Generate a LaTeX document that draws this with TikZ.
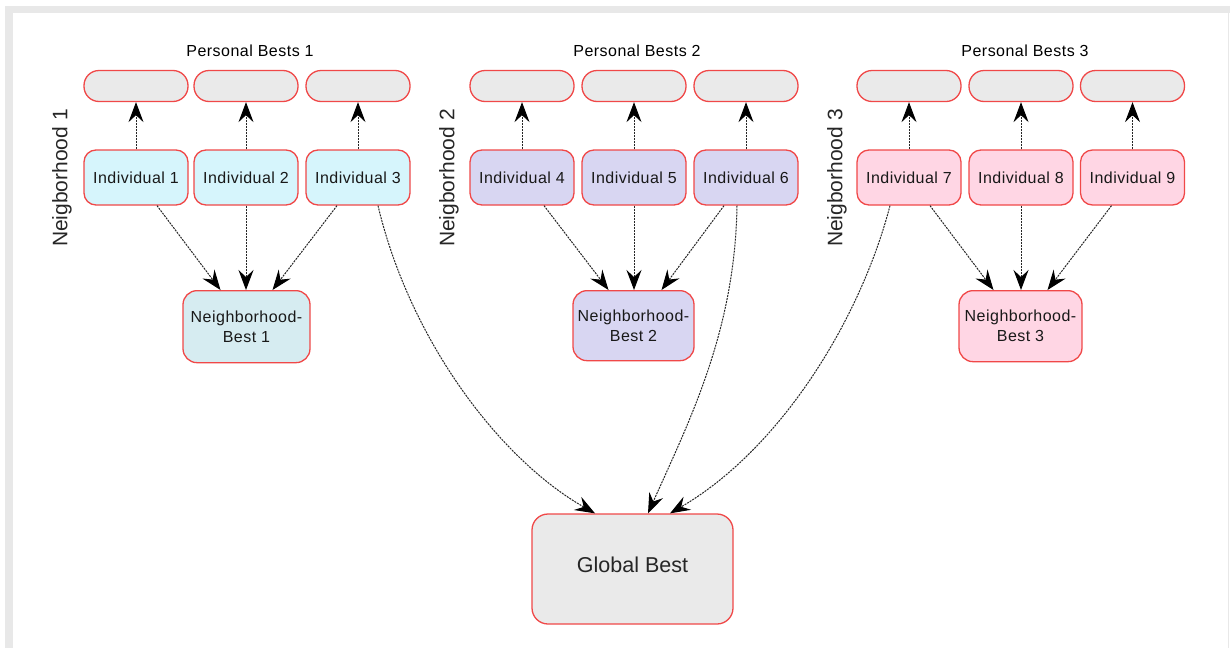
\documentclass[tikz,border=0pt]{standalone}
\usepackage{fontspec}
\setmainfont{Liberation Sans}
\newfontfamily\boxfont[LetterSpace=3]{Liberation Sans}
\usetikzlibrary{arrows.meta}

\definecolor{edgered}{RGB}{240,72,72}
\definecolor{boxgray}{RGB}{234,234,234}
\definecolor{framegray}{RGB}{232,232,232}
\definecolor{cyanA}{RGB}{214,245,252}
\definecolor{cyanB}{RGB}{214,236,241}
\definecolor{lilac}{RGB}{216,214,242}
\definecolor{rose}{RGB}{255,214,228}

\tikzset{
  pbest/.style={draw=edgered, line width=1.3pt, fill=boxgray, rounded corners=15pt,
    minimum width=104pt, minimum height=31pt, inner sep=0pt},
  indiv/.style={draw=edgered, line width=1.3pt, rounded corners=12pt,
    minimum width=104pt, minimum height=55pt, inner sep=0pt,
    font=\boxfont\fontsize{16}{20}\selectfont, text=black!90},
  nbest/.style={indiv, align=center, rounded corners=14pt, anchor=north},
  gbox/.style={draw=edgered, line width=1.3pt, fill=boxgray, rounded corners=16pt,
    minimum width=201pt, minimum height=110pt, inner sep=0pt, text depth=8pt,
    font=\fontsize{21.5}{26}\selectfont, text=black!85},
  title/.style={font=\boxfont\fontsize{16}{20}\selectfont},
  hoodlabel/.style={rotate=90, font=\fontsize{21}{25}\selectfont, text=black!85},
  link/.style={line width=1pt, black!85, dash pattern=on 2pt off 1pt,
    -{Stealth[length=20pt,width=15pt,inset=7pt,black]}}
}

\begin{document}
\begin{tikzpicture}[x=1pt,y=1pt,yscale=-1,xscale=1]
\useasboundingbox (0,0) rectangle (1230,648);

%Shape: Frame
\fill[framegray] (5,6) rectangle (1230,13);
\fill[framegray] (5,6) rectangle (13,648);
\draw[framegray, line width=1pt] (1228.5,13) -- (1228.5,648);

% Text Node
\node[title] (pbt1) at (250,51) {Personal Bests 1};
\node[title] (pbt2) at (637,51) {Personal Bests 2};
\node[title] (pbt3) at (1025,51) {Personal Bests 3};
% Text Node
\node[hoodlabel] (nh1) at (62,178) {Neigborhood 1};
\node[hoodlabel] (nh2) at (449,178) {Neigborhood 2};
\node[hoodlabel] (nh3) at (837,178) {Neigborhood 3};

%Shape: Personal best slots
\node[pbest] (pb1) at (136,86) {};
\node[pbest] (pb2) at (246,86) {};
\node[pbest] (pb3) at (358,86) {};
\node[pbest] (pb4) at (522,86) {};
\node[pbest] (pb5) at (634,86) {};
\node[pbest] (pb6) at (746,86) {};
\node[pbest] (pb7) at (909,86) {};
\node[pbest] (pb8) at (1021,86) {};
\node[pbest] (pb9) at (1132.5,86) {};

%Shape: Individuals
\node[indiv, fill=cyanA] (ind1) at (136,177.5) {Individual 1};
\node[indiv, fill=cyanA] (ind2) at (246,177.5) {Individual 2};
\node[indiv, fill=cyanA] (ind3) at (358,177.5) {Individual 3};
\node[indiv, fill=lilac] (ind4) at (522,177.5) {Individual 4};
\node[indiv, fill=lilac] (ind5) at (634,177.5) {Individual 5};
\node[indiv, fill=lilac] (ind6) at (746,177.5) {Individual 6};
\node[indiv, fill=rose] (ind7) at (909,177.5) {Individual 7};
\node[indiv, fill=rose] (ind8) at (1021,177.5) {Individual 8};
\node[indiv, fill=rose] (ind9) at (1132.5,177.5) {Individual 9};

%Shape: Neighborhood bests
\node[nbest, fill=cyanB, minimum width=127pt, minimum height=72pt] (nb1) at (246.5,290) {Neighborhood-\\Best 1};
\node[nbest, fill=lilac, minimum width=121pt, minimum height=70pt] (nb2) at (633.5,290) {Neighborhood-\\Best 2};
\node[nbest, fill=rose, minimum width=123pt, minimum height=71pt] (nb3) at (1020.5,290) {Neighborhood-\\Best 3};

%Shape: Global best
\node[gbox] (gbest) at (632.5,569) {Global Best};

%Straight Lines: up to the personal bests
\draw[link] (ind1.north) -- (pb1.south);
\draw[link] (ind2.north) -- (pb2.south);
\draw[link] (ind3.north) -- (pb3.south);
\draw[link] (ind4.north) -- (pb4.south);
\draw[link] (ind5.north) -- (pb5.south);
\draw[link] (ind6.north) -- (pb6.south);
\draw[link] (ind7.north) -- (pb7.south);
\draw[link] (ind8.north) -- (pb8.south);
\draw[link] (ind9.north) -- (pb9.south);

%Straight Lines: down to the neighborhood bests
\draw[link] ([xshift=21pt]ind1.south) -- ([xshift=-26pt]nb1.north);
\draw[link] (ind2.south) -- (ind2.south |- nb1.north);
\draw[link] ([xshift=-21pt]ind3.south) -- ([xshift=26pt]nb1.north);
\draw[link] ([xshift=22pt]ind4.south) -- ([xshift=-25pt]nb2.north);
\draw[link] (ind5.south) -- (ind5.south |- nb2.north);
\draw[link] ([xshift=-22pt]ind6.south) -- ([xshift=28pt]nb2.north);
\draw[link] ([xshift=21pt]ind7.south) -- ([xshift=-27pt]nb3.north);
\draw[link] (ind8.south) -- (ind8.south |- nb3.north);
\draw[link] ([xshift=-21pt]ind9.south) -- ([xshift=27pt]nb3.north);

%Curve Lines: to the global best
\draw[link] ([xshift=20pt]ind3.south) .. controls +(32,135) and +(-95,-54) .. ([xshift=-37.5pt]gbest.north);
\draw[link] ([xshift=-9pt]ind6.south) .. controls +(-2,125) and +(42,-94) .. ([xshift=15.5pt]gbest.north);
\draw[link] ([xshift=-19pt]ind7.south) .. controls +(-30,115) and +(110,-64) .. ([xshift=37.5pt]gbest.north);

\end{tikzpicture}
\end{document}
